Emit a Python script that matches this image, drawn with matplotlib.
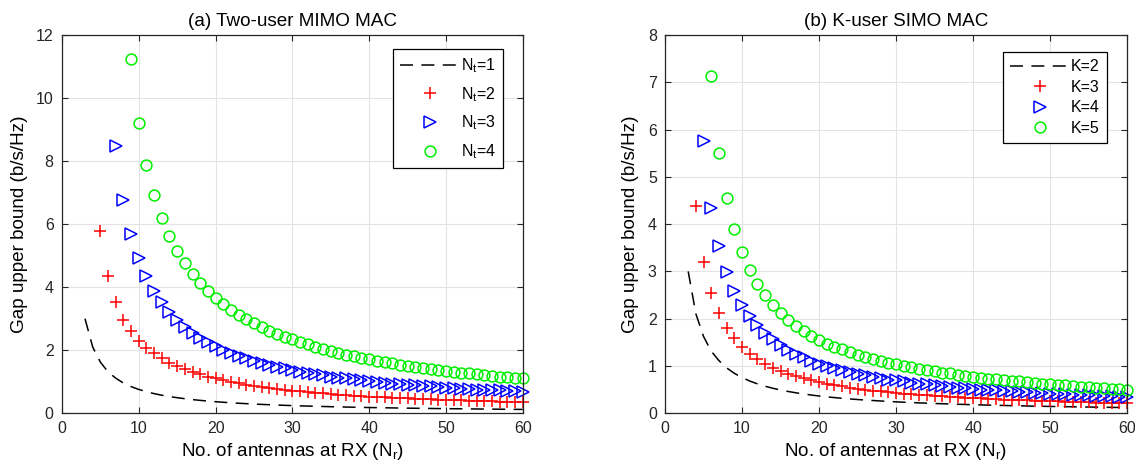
import numpy as np
import matplotlib
matplotlib.use("Agg")
import matplotlib.pyplot as plt

plt.rcParams['font.family'] = ['Liberation Sans', 'DejaVu Sans']
plt.rcParams['mathtext.default'] = 'regular'

# ---- data (gap upper bound, b/s/Hz) ----
nr_dash = list(range(3, 61))
gap_dash = [3.00, 2.10, 1.62, 1.31, 1.11, 0.956, 0.842, 0.752, 0.679, 0.619,
            0.569, 0.526, 0.490, 0.458, 0.430, 0.405, 0.383, 0.363, 0.345, 0.329,
            0.314, 0.301, 0.288, 0.277, 0.267, 0.257, 0.248, 0.239, 0.231, 0.224,
            0.217, 0.211, 0.204, 0.199, 0.193, 0.188, 0.183, 0.178, 0.174, 0.170,
            0.166, 0.162, 0.158, 0.155, 0.151, 0.148, 0.145, 0.142, 0.139, 0.137,
            0.134, 0.132, 0.129, 0.127, 0.125, 0.122, 0.120, 0.118]

# (a) two-user MIMO MAC
nr_a2 = list(range(5, 61))
gap_a2 = [5.77, 4.35, 3.52, 2.97, 2.60, 2.30, 2.08, 1.90, 1.74, 1.60,
          1.49, 1.40, 1.31, 1.23, 1.16, 1.10, 1.041, 0.990, 0.944, 0.903,
          0.864, 0.829, 0.796, 0.766, 0.739, 0.713, 0.689, 0.666, 0.645, 0.625,
          0.606, 0.589, 0.572, 0.557, 0.542, 0.528, 0.514, 0.502, 0.490, 0.478,
          0.467, 0.457, 0.447, 0.437, 0.428, 0.419, 0.410, 0.402, 0.395, 0.387,
          0.380, 0.373, 0.366, 0.360, 0.353, 0.347]

nr_a3 = list(range(7, 61))
gap_a3 = [8.49, 6.78, 5.70, 4.92, 4.35, 3.89, 3.52, 3.20, 2.96, 2.75,
          2.56, 2.40, 2.25, 2.13, 2.01, 1.91, 1.82, 1.74, 1.66, 1.59,
          1.53, 1.47, 1.42, 1.37, 1.32, 1.28, 1.24, 1.20, 1.16, 1.13,
          1.10, 1.07, 1.04, 1.02, 0.99, 0.97, 0.94, 0.92, 0.90, 0.88,
          0.86, 0.85, 0.83, 0.81, 0.80, 0.78, 0.77, 0.75, 0.74, 0.73,
          0.72, 0.70, 0.69, 0.68]

nr_a4 = list(range(9, 61))
gap_a4 = [11.26, 9.21, 7.89, 6.93, 6.20, 5.63, 5.16, 4.76, 4.42, 4.13,
          3.88, 3.65, 3.46, 3.28, 3.13, 2.98, 2.85, 2.73, 2.62, 2.52,
          2.43, 2.34, 2.26, 2.18, 2.11, 2.04, 1.98, 1.92, 1.86, 1.81,
          1.76, 1.71, 1.66, 1.62, 1.58, 1.54, 1.50, 1.47, 1.44, 1.40,
          1.37, 1.34, 1.31, 1.29, 1.26, 1.23, 1.21, 1.19, 1.16, 1.14,
          1.12, 1.10]

# (b) K-user SIMO MAC
nr_b3 = list(range(4, 61))
gap_b3 = [4.39, 3.20, 2.55, 2.12, 1.81, 1.58, 1.40, 1.26, 1.14, 1.045,
          0.963, 0.894, 0.833, 0.781, 0.734, 0.693, 0.656, 0.623, 0.593, 0.566,
          0.541, 0.518, 0.497, 0.478, 0.460, 0.444, 0.428, 0.414, 0.401, 0.388,
          0.376, 0.365, 0.354, 0.345, 0.335, 0.326, 0.318, 0.310, 0.302, 0.295,
          0.288, 0.282, 0.275, 0.269, 0.264, 0.258, 0.253, 0.248, 0.243, 0.238,
          0.234, 0.229, 0.225, 0.221, 0.217, 0.213, 0.210]

nr_b4 = list(range(5, 61))
gap_b4 = [5.77, 4.35, 3.54, 2.98, 2.59, 2.29, 2.06, 1.86, 1.70, 1.56,
          1.45, 1.34, 1.26, 1.18, 1.11, 1.05, 1.00, 0.95, 0.91, 0.87,
          0.83, 0.80, 0.77, 0.74, 0.71, 0.70, 0.67, 0.64, 0.62, 0.61,
          0.59, 0.57, 0.56, 0.54, 0.53, 0.51, 0.50, 0.49, 0.48, 0.47,
          0.46, 0.45, 0.44, 0.43, 0.42, 0.41, 0.40, 0.396, 0.39, 0.38,
          0.375, 0.37, 0.36, 0.356, 0.35, 0.344]

nr_b5 = list(range(6, 61))
gap_b5 = [7.13, 5.50, 4.56, 3.89, 3.42, 3.04, 2.74, 2.50, 2.29, 2.12,
          1.97, 1.85, 1.74, 1.64, 1.55, 1.47, 1.41, 1.35, 1.29, 1.24,
          1.19, 1.15, 1.11, 1.07, 1.035, 1.00, 0.97, 0.94, 0.91, 0.89,
          0.86, 0.84, 0.81, 0.79, 0.77, 0.75, 0.73, 0.72, 0.70, 0.68,
          0.67, 0.65, 0.64, 0.62, 0.61, 0.60, 0.59, 0.57, 0.56, 0.55,
          0.54, 0.53, 0.52, 0.51, 0.50]

labels_a = ['$N_t$=1', '$N_t$=2', '$N_t$=3', '$N_t$=4']
labels_b = ['K=2', 'K=3', 'K=4', 'K=5']

RED = '#ff0000'
BLUE = '#0000ff'
GREEN = '#00f000'
AX_COL = '#262626'

fig = plt.figure(figsize=(11.35, 4.7), dpi=100)
ax1 = fig.add_axes([0.0546, 0.121, 0.406, 0.804])
ax2 = fig.add_axes([0.586, 0.121, 0.407, 0.804])


def draw_panel(ax, series, labels, ymax, title, lab_space, leg_top):
    (x0, y0), (x1, y1), (x2, y2), (x3, y3) = series
    ax.plot(x0, y0, color='black', ls=(0, (8.5, 5.5)), lw=1.1, label=labels[0])
    ax.plot(x1, y1, ls='none', marker='+', ms=9, mew=1.1, color=RED,
            label=labels[1], clip_on=False)
    ax.plot(x2, y2, ls='none', marker='>', ms=8.5, mew=1.1, mfc='none',
            mec=BLUE, label=labels[2], clip_on=False)
    ax.plot(x3, y3, ls='none', marker='o', ms=7.8, mew=1.1, mfc='none',
            mec=GREEN, label=labels[3], clip_on=False)
    ax.set_xlim(0, 60)
    ax.set_ylim(0, ymax)
    ax.set_xticks(range(0, 61, 10))
    ax.grid(True, color='#e3e3e3', lw=0.8)
    ax.set_axisbelow(True)
    ax.tick_params(direction='in', top=True, right=True, length=4,
                   labelsize=11.5, colors=AX_COL, pad=6)
    for sp in ax.spines.values():
        sp.set_color(AX_COL)
        sp.set_linewidth(0.9)
    ax.set_title(title, fontsize=13.6, pad=7)
    ax.set_xlabel('No. of antennas at RX ($N_r$)', fontsize=13.6, labelpad=3)
    ax.set_ylabel('Gap upper bound (b/s/Hz)', fontsize=13.6, labelpad=6)
    leg = ax.legend(loc='upper right', bbox_to_anchor=(0.957, leg_top),
                    fontsize=11.5, handlelength=3.7, fancybox=False,
                    framealpha=1, edgecolor='black', borderpad=0.45,
                    labelspacing=lab_space, handletextpad=0.1,
                    borderaxespad=0)
    leg.get_frame().set_linewidth(0.9)


draw_panel(ax1, [(nr_dash, gap_dash), (nr_a2, gap_a2), (nr_a3, gap_a3), (nr_a4, gap_a4)],
           labels_a, 12, '(a) Two-user MIMO MAC', 0.62, 0.963)
draw_panel(ax2, [(nr_dash, gap_dash), (nr_b3, gap_b3), (nr_b4, gap_b4), (nr_b5, gap_b5)],
           labels_b, 8, '(b) K-user SIMO MAC', 0.34, 0.955)

fig.savefig('out.png', dpi=100)
